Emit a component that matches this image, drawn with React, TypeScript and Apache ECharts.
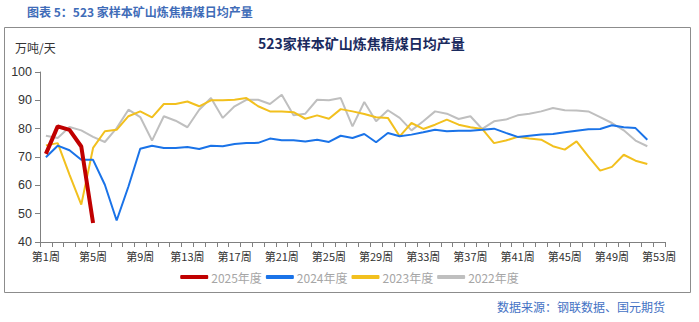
import React, { useEffect, useRef } from "react";
import * as echarts from "echarts";

const weeks: string[] = Array.from({ length: 53 }, (_, i) => `第${i + 1}周`);
const yTicks = { min: 40, max: 100, interval: 10 };

const s2025: number[] = [71.1, 80.8, 79.6, 73.7, 46.7];
const s2024: number[] = [
  69.9, 74.0, 72.4, 69.0, 69.0, 60.2, 47.6, 59.6, 72.9, 74.0, 73.2, 73.2, 73.5, 72.8, 74.0, 73.8,
  74.6, 74.9, 75.0, 76.5, 75.9, 75.9, 75.5, 76.1, 75.3, 77.5, 76.7, 78.1, 75.2, 78.5, 77.3, 77.9,
  78.7, 79.6, 79.1, 79.3, 79.3, 79.6, 80.0, 78.5, 77.1, 77.5, 77.9, 78.1, 78.7, 79.3, 79.8, 79.9,
  81.2, 80.5, 80.2, 76.1,
];
const s2023: number[] = [
  74.1, 74.9, 63.8, 53.2, 73.2, 79.1, 79.6, 84.4, 86.1, 84.0, 88.7, 88.7, 89.6, 87.9, 90.0, 90.0,
  90.2, 90.8, 87.9, 86.1, 86.1, 85.8, 83.5, 84.7, 83.5, 86.9, 86.1, 85.2, 84.0, 83.8, 77.3, 82.0,
  79.9, 81.4, 83.2, 81.4, 80.5, 79.9, 74.9, 75.8, 77.1, 76.5, 76.1, 73.8, 72.6, 75.5, 70.2, 65.2,
  66.5, 70.8, 68.7, 67.5,
];
const s2022: number[] = [
  77.5, 76.7, 80.6, 79.4, 77.1, 75.3, 80.2, 86.7, 84.1, 75.8, 84.4, 82.8, 80.5, 86.7, 90.8, 83.8,
  87.9, 90.2, 90.2, 88.7, 92.0, 84.7, 85.3, 90.2, 90.0, 90.8, 80.8, 89.4, 82.6, 86.5, 83.8, 79.4,
  82.6, 86.1, 85.3, 83.4, 84.4, 79.9, 82.6, 83.2, 84.7, 85.3, 86.1, 87.3, 86.5, 86.4, 86.1, 84.1,
  82.0, 79.4, 75.8, 73.8,
];
const seriesNames = ["2025年度", "2024年度", "2023年度", "2022年度"];

export default function App() {
  const ref = useRef<HTMLDivElement>(null);
  useEffect(() => {
    if (!ref.current) return;
    const chart = echarts.init(ref.current, null, { renderer: "svg" });
    const mk = (name: string, data: number[], color: string, width: number, z: number) => ({
      name,
      type: "line",
      data,
      symbol: "none",
      showSymbol: false,
      z,
      lineStyle: { color, width },
      itemStyle: { color },
    });
    chart.setOption({
      animation: false,
      backgroundColor: "#ffffff",
      textStyle: { fontFamily: "'Liberation Sans', 'Noto Sans CJK SC', sans-serif" },
      graphic: [
        {
          type: "rect",
          shape: { x: 4.5, y: 27.5, width: 686, height: 265 },
          style: { fill: "none", stroke: "#8c8c8c", lineWidth: 1 },
          silent: true,
        },
        {
          type: "text",
          left: 27,
          top: 5,
          style: {
            text: "图表 5：523 家样本矿山炼焦精煤日均产量",
            fill: "#3F6CB8",
            font: "bold 12px 'Noto Sans CJK SC', sans-serif",
          },
        },
        {
          type: "text",
          left: 15,
          top: 41,
          style: {
            text: "万吨/天",
            fill: "#333333",
            font: "12px 'Noto Sans CJK SC', sans-serif",
          },
        },
        {
          type: "text",
          left: 258,
          top: 36,
          style: {
            text: "523家样本矿山炼焦精煤日均产量",
            fill: "#1A2A5E",
            font: "bold 14px 'Noto Sans CJK SC', sans-serif",
          },
        },
        {
          type: "text",
          right: 34,
          top: 300,
          style: {
            text: "数据来源：钢联数据、国元期货",
            fill: "#4472C4",
            font: "12px 'Noto Sans CJK SC', sans-serif",
          },
        },
      ],
      legend: {
        data: seriesNames,
        top: 266,
        left: "center",
        icon: "roundRect",
        itemWidth: 28,
        itemHeight: 4,
        itemGap: 4,
        textStyle: {
          color: "#a6a6a6",
          fontSize: 12,
          padding: [0, 0, 0, -2],
          fontFamily: "'Noto Sans CJK SC', sans-serif",
        },
      },
      grid: { left: 40, right: 34, top: 72, bottom: 80, containLabel: false },
      xAxis: {
        type: "category",
        data: weeks,
        boundaryGap: true,
        axisLine: { lineStyle: { color: "#808080", width: 1 } },
        axisTick: { show: true, interval: 0, length: 5, lineStyle: { color: "#808080" } },
        axisLabel: {
          interval: 3,
          color: "#333333",
          fontSize: 11,
          margin: 8,
          fontFamily: "'Noto Sans CJK SC', sans-serif",
        },
      },
      yAxis: {
        type: "value",
        min: yTicks.min,
        max: yTicks.max,
        interval: yTicks.interval,
        axisLine: { show: true, lineStyle: { color: "#808080", width: 1 } },
        axisTick: { show: true, length: 5, lineStyle: { color: "#808080" } },
        splitLine: { show: false },
        axisLabel: { color: "#333333", fontSize: 12.5, margin: 8 },
      },
      series: [
        mk(seriesNames[0], s2025, "#C00000", 4, 5),
        mk(seriesNames[1], s2024, "#1A73E8", 2, 4),
        mk(seriesNames[2], s2023, "#F2C01E", 2, 3),
        mk(seriesNames[3], s2022, "#BFBFBF", 2, 2),
      ],
    });
    return () => chart.dispose();
  }, []);
  return (
    <div
      ref={ref}
      style={{ position: "fixed", left: 0, top: 0, width: 699, height: 322, background: "#fff" }}
    />
  );
}
